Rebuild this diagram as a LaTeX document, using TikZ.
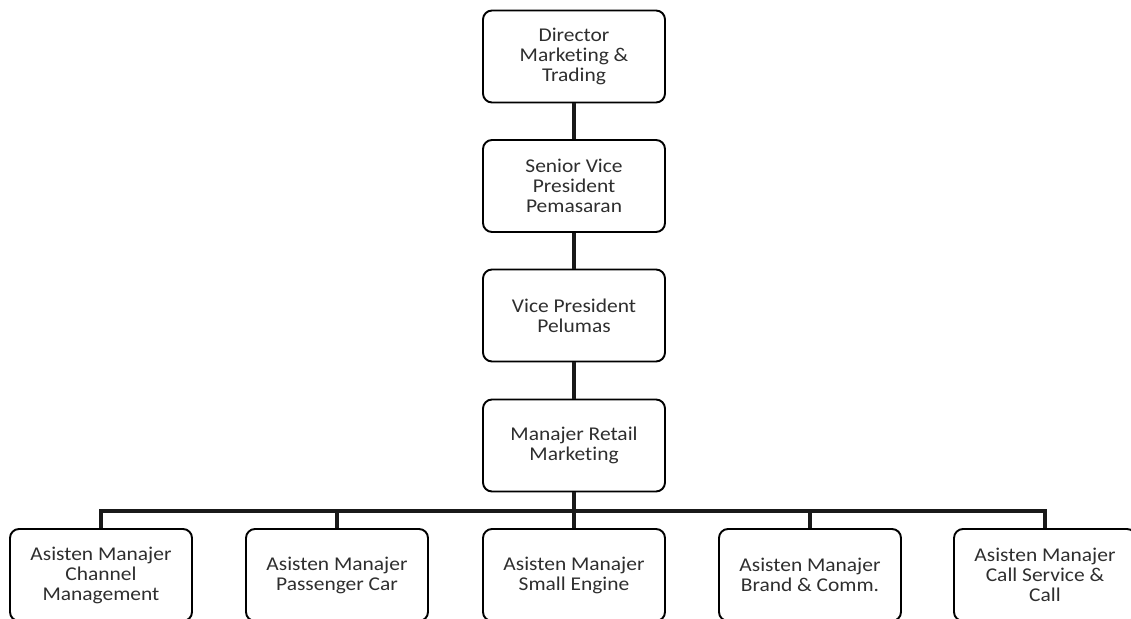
\documentclass[tikz,border=0pt]{standalone}
\usepackage{fontspec}
\setmainfont{Carlito}[FakeStretch=1.1, Ligatures={NoCommon}]
\begin{document}
\begin{tikzpicture}[x=1pt,y=-1pt,
  unit/.style={draw=black, line width=1.9pt, rounded corners=9pt,
    minimum width=182pt, minimum height=92pt, inner sep=0pt,
    align=center, text=black!82, font=\fontsize{19.5}{20}\selectfont},
  link/.style={line width=3.1pt, draw=black!90}]
\useasboundingbox (0,0) rectangle (1131,618);
\node[unit] (dir) at (574,56.5) {Director\\Marketing \&\\Trading};
\node[unit] (svp) at (574,186) {Senior Vice\\President\\Pemasaran};
\node[unit] (vp)  at (574,315.5) {Vice President\\Pelumas};
\node[unit] (mgr) at (574,445.5) {Manajer Retail\\Marketing};
\node[unit] (a1) at (101,575) {Asisten Manajer\\Channel\\Management};
\node[unit] (a2) at (337,575) {Asisten Manajer\\Passenger Car};
\node[unit] (a3) at (574,575) {Asisten Manajer\\Small Engine};
\node[unit] (a4) at (810,575) {Asisten Manajer\\Brand \& Comm.};
\node[unit] (a5) at (1045,575) {Asisten Manajer\\Call Service \&\\Call};
\draw[link] (dir) -- (svp);
\draw[link] (svp) -- (vp);
\draw[link] (vp) -- (mgr);
\coordinate (bus) at (574,511);
\draw[link] (mgr) -- (bus);
\foreach \n in {a1,a2,a3,a4,a5}
  \draw[link] (bus) -| (\n.north);
\end{tikzpicture}
\end{document}
